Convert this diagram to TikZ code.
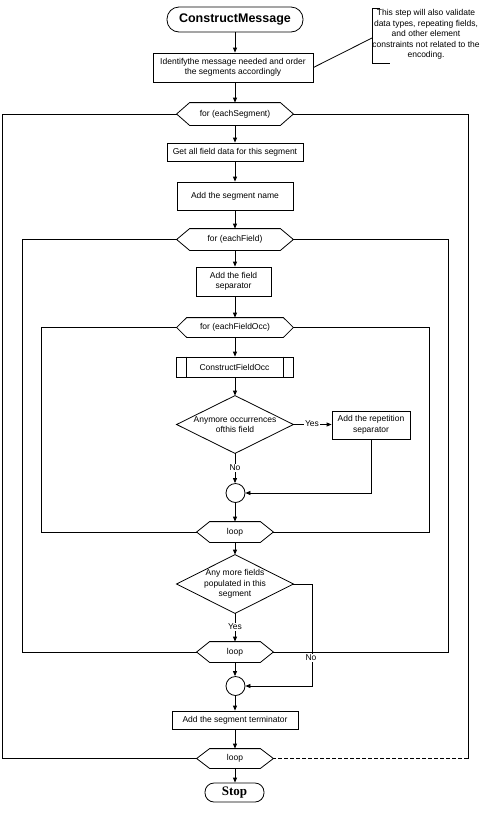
\documentclass[tikz,border=0pt]{standalone}
\usepackage{fontspec}
\setmainfont{Liberation Sans}
\newfontfamily\stopfont{Liberation Serif}
\usetikzlibrary{arrows.meta}
\begin{document}
\begin{tikzpicture}[x=1pt,y=-1pt, line width=0.8pt,
  >={Triangle[length=5pt,width=4pt]},
  every node/.style={font=\fontsize{8.5}{10.5}\selectfont, inner sep=0pt, align=center},
  box/.style={draw, rectangle},
  ghost/.style={rectangle},
  termbox/.style={draw, rectangle, rounded corners=#1},
  lbl/.style={fill=white, inner sep=1pt}]
\useasboundingbox (0,0) rectangle (490,823);

% nodes
\node[termbox=12pt, minimum width=136pt, minimum height=25pt, font=\fontsize{12.5}{14}\selectfont\bfseries] (cm) at (235,19.5) {ConstructMessage};
\node[box, minimum width=160pt, minimum height=29pt] (id) at (233,67.5) {Identifythe message needed and order\\the segments accordingly};
\node[ghost, minimum width=116pt, minimum height=22pt] (h1) at (235,114) {for (eachSegment)};
\node[box, minimum width=136pt, minimum height=18pt] (get) at (235,152) {Get all field data for this segment};
\node[box, minimum width=116pt, minimum height=28pt] (sn) at (235,196) {Add the segment name};
\node[ghost, minimum width=116pt, minimum height=21pt] (h2) at (235,239.5) {for (eachField)};
\node[box, minimum width=75pt, minimum height=29pt] (fs) at (233.5,281.5) {Add the field\\separator};
\node[ghost, minimum width=116pt, minimum height=19pt] (h3) at (235,327.5) {for (eachFieldOcc)};
\node[box, minimum width=117pt, minimum height=20pt] (cfo) at (234.5,367) {ConstructFieldOcc};
\node[ghost, minimum width=116pt, minimum height=57pt] (d1) at (235,424.5) {Anymore occurrences\\ofthis field};
\node[box, minimum width=78pt, minimum height=28pt] (rep) at (371,425) {Add the repetition\\separator};
\node[draw, circle, minimum size=19pt] (c1) at (235.5,493) {};
\node[ghost, minimum width=76pt, minimum height=20pt] (l3) at (235,532) {loop};
\node[ghost, minimum width=116pt, minimum height=58pt] (d2) at (235,584) {Any more fields\\populated in this\\segment};
\node[ghost, minimum width=76pt, minimum height=20pt] (l2) at (235,652) {loop};
\node[draw, circle, minimum size=19pt] (c2) at (235.5,686) {};
\node[box, minimum width=126pt, minimum height=18pt] (st) at (235,720) {Add the segment terminator};
\node[ghost, minimum width=76pt, minimum height=19pt] (l1) at (235,758.5) {loop};
\node[termbox=9pt, minimum width=59pt, minimum height=19pt, font=\fontsize{13}{14}\selectfont\stopfont\bfseries] (stop) at (234.5,792.5) {Stop};

% note
\node (note) at (426,34.5) {This step will also validate\\data types, repeating fields,\\and other element\\constraints not related to the\\encoding.};
\coordinate (nt) at (380,8);
\coordinate (nl) at (372,38);
\coordinate (nb) at (390,63);
\draw (nt) -- (nt -| nl) -- (nb -| nl) -- (nb);
\draw (id.east) -- (nl);

% hexagons
\foreach \n/\d in {h1/13,h2/13,h3/10,l3/13,l2/13,l1/13}
  \draw (\n.west) -- ([xshift=\d]\n.north west) -- ([xshift=-\d]\n.north east) -- (\n.east)
        -- ([xshift=-\d]\n.south east) -- ([xshift=\d]\n.south west) -- cycle;
% diamonds
\foreach \n in {d1,d2}
  \draw (\n.north) -- (\n.east) -- (\n.south) -- (\n.west) -- cycle;
% predefined process bars
\draw ([xshift=11]cfo.north west) -- ([xshift=11]cfo.south west);
\draw ([xshift=-10]cfo.north east) -- ([xshift=-10]cfo.south east);

% main flow
\draw[->] (cm.south) -- (cm.south |- id.north);
\draw[->] (cm.south |- id.south) -- (h1.north);
\draw[->] (h1.south) -- (get.north);
\draw[->] (get.south) -- (sn.north);
\draw[->] (sn.south) -- (h2.north);
\draw[->] (h2.south) -- (h2.south |- fs.north);
\draw[->] (h2.south |- fs.south) -- (h3.north);
\draw[->] (h3.south) -- (h3.south |- cfo.north);
\draw[->] (h3.south |- cfo.south) -- (d1.north);
\draw[->] (d1.east) -- (d1.east -| rep.west);
\node[lbl] (yes1) at (312,424) {Yes};
\draw[->] (d1.south) -- (d1.south |- c1.north);
\node[lbl] (no1) at (235,468) {No};
\draw[->] (rep.south) |- (c1.east);
\draw[->] (d1.south |- c1.south) -- (l3.north);
\draw[->] (l3.south) -- (d2.north);
\draw[->] (d2.south) -- (l2.north);
\node[lbl] (yes2) at (235,627) {Yes};
\coordinate (nox) at (312,0);
\draw[->] (d2.east) -- (d2.east -| nox) |- (c2.east);
\node[lbl] (no2) at (311,658) {No};
\draw[->] (l2.south) -- (l2.south |- c2.north);
\draw[->] (l2.south |- c2.south) -- (st.north);
\draw[->] (st.south) -- (l1.north);
\draw[->] (l1.south) -- (l1.south |- stop.north);

% loop frames
\coordinate (x1l) at (2,0);
\coordinate (x1r) at (468,0);
\coordinate (x2l) at (22,0);
\coordinate (x2r) at (448,0);
\coordinate (x3l) at (41,0);
\coordinate (x3r) at (429,0);
\draw (h1.west) -- (h1.west -| x1l) -- (l1.west -| x1l) -- (l1.west);
\draw (h1.east) -- (h1.east -| x1r) -- (l1.east -| x1r);
\draw[dash pattern=on 4pt off 2pt] (l1.east -| x1r) -- (l1.east);
\draw (h2.west) -- (h2.west -| x2l) -- (l2.west -| x2l) -- (l2.west);
\draw (h2.east) -- (h2.east -| x2r) -- (l2.east -| x2r) -- (l2.east);
\draw (h3.west) -- (h3.west -| x3l) -- (l3.west -| x3l) -- (l3.west);
\draw (h3.east) -- (h3.east -| x3r) -- (l3.east -| x3r) -- (l3.east);
\node[lbl] at (no2) {No};
\end{tikzpicture}
\end{document}
